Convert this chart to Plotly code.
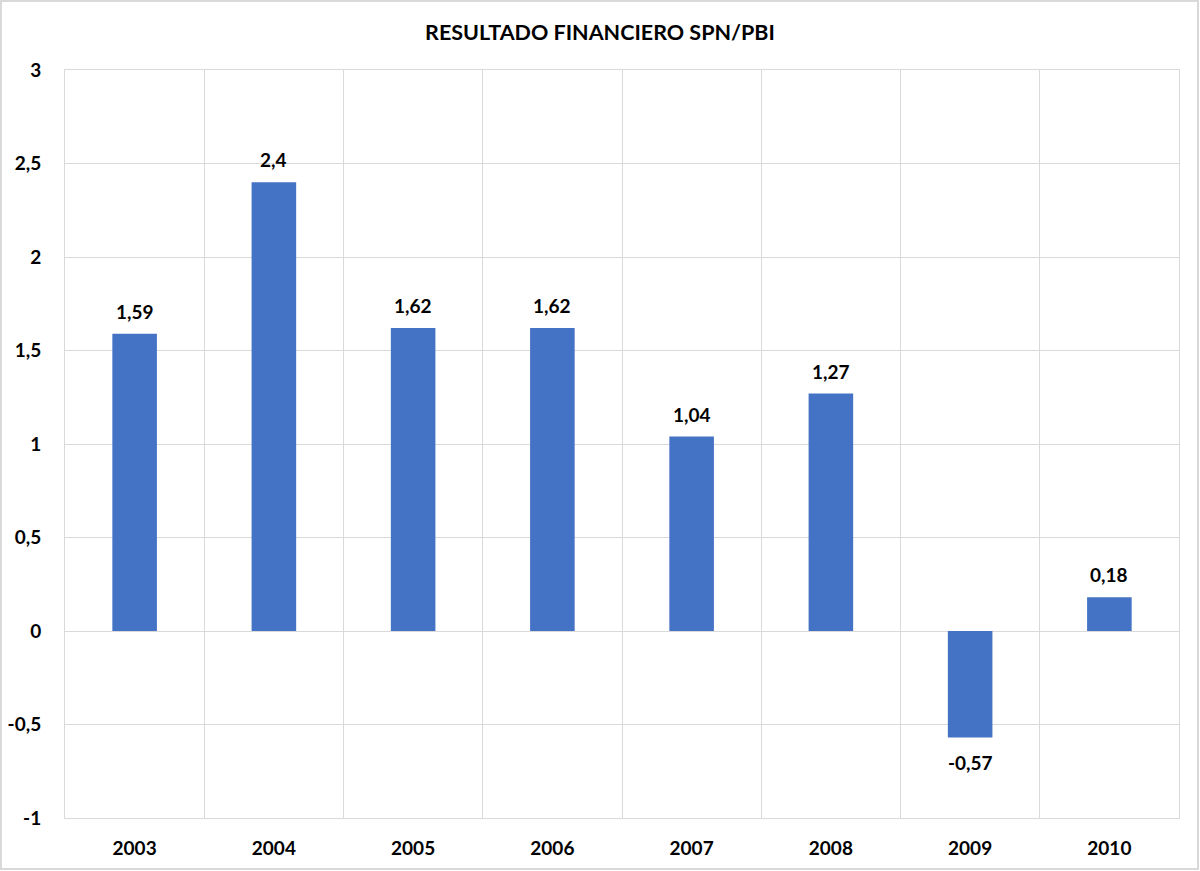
import plotly.graph_objects as go

years = ["2003", "2004", "2005", "2006", "2007", "2008", "2009", "2010"]
values = [1.59, 2.4, 1.62, 1.62, 1.04, 1.27, -0.57, 0.18]
labels = ["1,59", "2,4", "1,62", "1,62", "1,04", "1,27", "-0,57", "0,18"]
ytick_vals = [-1, -0.5, 0, 0.5, 1, 1.5, 2, 2.5, 3]
ytick_text = ["-1", "-0,5", "0", "0,5", "1", "1,5", "2", "2,5", "3"]

FONT = "Lato, Open Sans, sans-serif"
TXT = dict(family=FONT, size=19, color="#000000", weight="bold")

fig = go.Figure(go.Bar(
    x=years, y=values,
    marker=dict(color="#4472C4", line=dict(width=0)),
    cliponaxis=False,
))

annotations = []
for i, (v, lab) in enumerate(zip(values, labels)):
    annotations.append(dict(
        x=i, y=v, xref="x", yref="y", text=lab, showarrow=False,
        yanchor="bottom" if v >= 0 else "top",
        yshift=9 if v >= 0 else -11,
        font=TXT,
    ))

fig.update_layout(
    width=1200, height=871,
    margin=dict(l=65, r=21, t=70, b=53, autoexpand=False),
    paper_bgcolor="white", plot_bgcolor="white",
    bargap=0.68,
    showlegend=False,
    annotations=annotations,
    title=dict(text="<b>RESULTADO FINANCIERO SPN/PBI</b>", x=0.5, xanchor="center",
               y=1 - 32 / 871, yanchor="middle",
               font=dict(family=FONT, size=21.5, color="#000000")),
    xaxis=dict(type="category", categoryorder="array", categoryarray=years,
               range=[-0.5, len(years) - 0.5], automargin=False,
               tickson="boundaries", showgrid=True, tickangle=0,
               gridcolor="#d9d9d9", gridwidth=1, ticks="", showline=True,
               linecolor="#d9d9d9", mirror=True,
               tickfont=TXT, ticklabelstandoff=13),
    yaxis=dict(range=[-1, 3], tickvals=ytick_vals, ticktext=ytick_text,
               automargin=False,
               showgrid=True, gridcolor="#d9d9d9", gridwidth=1,
               zeroline=True, zerolinecolor="#d9d9d9", zerolinewidth=1,
               showline=True, linecolor="#d9d9d9", mirror=True, ticks="",
               tickfont=TXT, ticklabelstandoff=19),
    shapes=[dict(type="rect", xref="paper", yref="paper",
                 x0=(1 - 65) / 1114, x1=(1198 - 65) / 1114,
                 y0=(818 - 869) / 748, y1=(818 - 1) / 748,
                 line=dict(color="#d9d9d9", width=2), fillcolor="rgba(0,0,0,0)",
                 layer="below")],
)

fig.write_html("out.html")
